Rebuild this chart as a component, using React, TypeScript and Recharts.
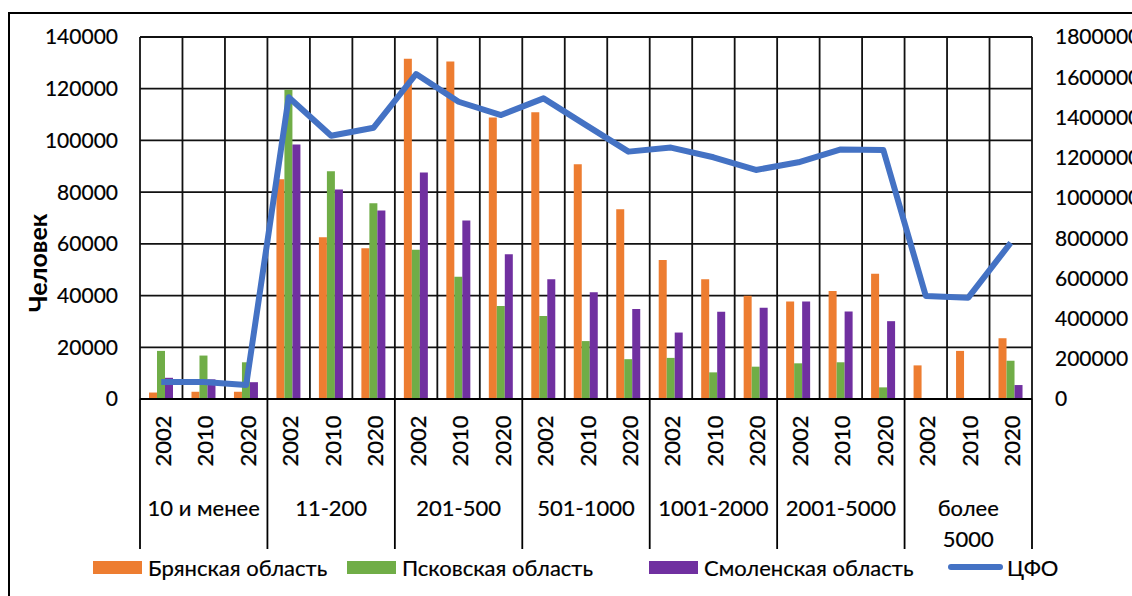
import React from 'react';
import { ComposedChart, Bar, Line, XAxis, YAxis, CartesianGrid } from 'recharts';

const groups = ['10 и менее', '11-200', '201-500', '501-1000', '1001-2000', '2001-5000', 'более\n5000'];
const years = ['2002', '2010', '2020'];

const bryansk = [2500, 2800, 2800, 85000, 62600, 58300, 131600, 130500, 108900, 110900, 90800, 73400, 53800, 46300, 39900, 37700, 41800, 48400, 13000, 18600, 23500];
const pskov = [18600, 16800, 14200, 119600, 88100, 75700, 57700, 47300, 36000, 32100, 22400, 15400, 15900, 10300, 12500, 13800, 14200, 4500, 0, 0, 14800];
const smolensk = [8200, 7600, 6500, 98400, 81000, 72900, 87600, 69000, 56000, 46300, 41300, 34800, 25700, 33700, 35300, 37700, 33800, 30100, 0, 0, 5400];
const cfo = [85000, 84000, 70000, 1500000, 1309000, 1349000, 1616000, 1478000, 1412000, 1495000, 1362000, 1230000, 1250000, 1202000, 1139000, 1177000, 1241000, 1238000, 512000, 504000, 777000];

const leftTicks = [0, 20000, 40000, 60000, 80000, 100000, 120000, 140000];
const rightTicks = [0, 200000, 400000, 600000, 800000, 1000000, 1200000, 1400000, 1600000, 1800000];

const series = [
  { key: 'bryansk', name: 'Брянская область', color: '#ED7D31' },
  { key: 'pskov', name: 'Псковская область', color: '#70AD47' },
  { key: 'smolensk', name: 'Смоленская область', color: '#7030A0' },
];
const lineSeries = { key: 'cfo', name: 'ЦФО', color: '#4472C4' };

const rows = groups.flatMap((g, gi) =>
  years.map((y, yi) => {
    const i = gi * years.length + yi;
    return { idx: i, group: g, year: y, bryansk: bryansk[i], pskov: pskov[i], smolensk: smolensk[i], cfo: cfo[i] };
  })
);

const FONT = 'Lato, "Liberation Sans", sans-serif';
const N = rows.length;

function CategoryTick(props: any) {
  const { x, y, payload, width } = props;
  const i = Number(payload.value);
  const row = rows[i];
  if (!row) return null;
  const bw = typeof width === 'number' && width > 100 ? width / N : (payload.offset ? payload.offset * 2 : 42.5);
  const yi = i % years.length;
  const cy = y + 42;
  const els: any[] = [];
  els.push(
    <text key="yr" x={x + 1} y={cy} transform={`rotate(-90 ${x + 1} ${cy})`} textAnchor="middle" dominantBaseline="central"
      fontSize={22} fontFamily={FONT} fill="#000" stroke="#000" strokeWidth={0.3}>{row.year}</text>
  );
  if (yi === 0) {
    els.push(<line key="l0" x1={x - bw / 2} x2={x - bw / 2} y1={y} y2={y + 150} stroke="#000" strokeWidth={1.8} />);
  }
  if (i === N - 1) {
    els.push(<line key="l1" x1={x + bw / 2} x2={x + bw / 2} y1={y} y2={y + 150} stroke="#000" strokeWidth={1.8} />);
  }
  if (yi === 1) {
    const parts = row.group.split('\n');
    parts.forEach((p: string, k: number) => {
      els.push(
        <text key={'g' + k} x={x} y={y + 108 + k * 31} textAnchor="middle" dominantBaseline="central"
          fontSize={22} fontFamily={FONT} fill="#000" stroke="#000" strokeWidth={0.2}>{p}</text>
      );
    });
  }
  return <g>{els}</g>;
}

function AxisTitle() {
  return (
    <text x={37} y={263} transform="rotate(-90 37 263)" textAnchor="middle" dominantBaseline="central"
      fontSize={25} fontWeight="bold" fontFamily={FONT} fill="#000">Человек</text>
  );
}

function LegendItem({ left, color, name, line }: any) {
  return (
    <div style={{ position: 'absolute', left, top: 554, height: 26, display: 'flex', alignItems: 'center' }}>
      <div style={{ width: line ? 55 : 49, height: line ? 6 : 13, background: color, borderRadius: line ? 3 : 0 }} />
      <span style={{ marginLeft: line ? 4 : 6, fontSize: 22, fontFamily: FONT, color: '#000', whiteSpace: 'nowrap', WebkitTextStroke: '0.2px #000' }}>{name}</span>
    </div>
  );
}

export default function App() {
  const legendLefts = [93, 347, 649];
  return (
    <div style={{ position: 'relative', width: 1132, height: 596, overflow: 'hidden', background: '#fff', fontFamily: FONT }}>
      <style>{'body{margin:0;overflow:hidden;}'}</style>
      <div style={{ position: 'absolute', left: 8, top: 12, width: 1300, height: 800, borderTop: '2px solid #000', borderLeft: '2px solid #000' }} />
      <div style={{ position: 'absolute', left: 0, top: 0 }}>
        <ComposedChart width={1132} height={596} data={rows} margin={{ top: 37, right: 0, bottom: 0, left: 0 }} barGap={0}>
          <CartesianGrid yAxisId="left" stroke="#111" strokeWidth={1.8}
            verticalCoordinatesGenerator={({ offset }: any) => Array.from({ length: N + 1 }, (_, k) => offset.left + (k * offset.width) / N)} />
          <XAxis dataKey="idx" type="category" interval={0} height={197} tickLine={false} tickSize={0} tickMargin={0}
            axisLine={{ stroke: '#000', strokeWidth: 1.8 }} tick={<CategoryTick />} />
          <YAxis yAxisId="left" orientation="left" width={140} domain={[0, 140000]} ticks={leftTicks} interval={0}
            axisLine={false} tickLine={false} tickSize={0} tickMargin={22}
            tick={{ fill: '#000', fontSize: 21, fontFamily: FONT, stroke: '#000', strokeWidth: 0.2 }} label={<AxisTitle />} />
          <YAxis yAxisId="right" orientation="right" width={100} domain={[0, 1800000]} ticks={rightTicks} interval={0}
            axisLine={false} tickLine={false} tickSize={0} tickMargin={23}
            tick={{ fill: '#000', fontSize: 21, fontFamily: FONT, textAnchor: 'start', stroke: '#000', strokeWidth: 0.2 }} />
          {series.map((s) => (
            <Bar key={s.key} yAxisId="left" dataKey={s.key} name={s.name} fill={s.color} barSize={8} isAnimationActive={false} />
          ))}
          <Line yAxisId="right" dataKey={lineSeries.key} name={lineSeries.name} stroke={lineSeries.color} strokeWidth={6}
            dot={false} activeDot={false} type="linear" strokeLinejoin="round" isAnimationActive={false} />
        </ComposedChart>
      </div>
      {series.map((s, k) => (
        <LegendItem key={s.key} left={legendLefts[k]} color={s.color} name={s.name} />
      ))}
      <LegendItem left={948} color={lineSeries.color} name={lineSeries.name} line />
    </div>
  );
}
